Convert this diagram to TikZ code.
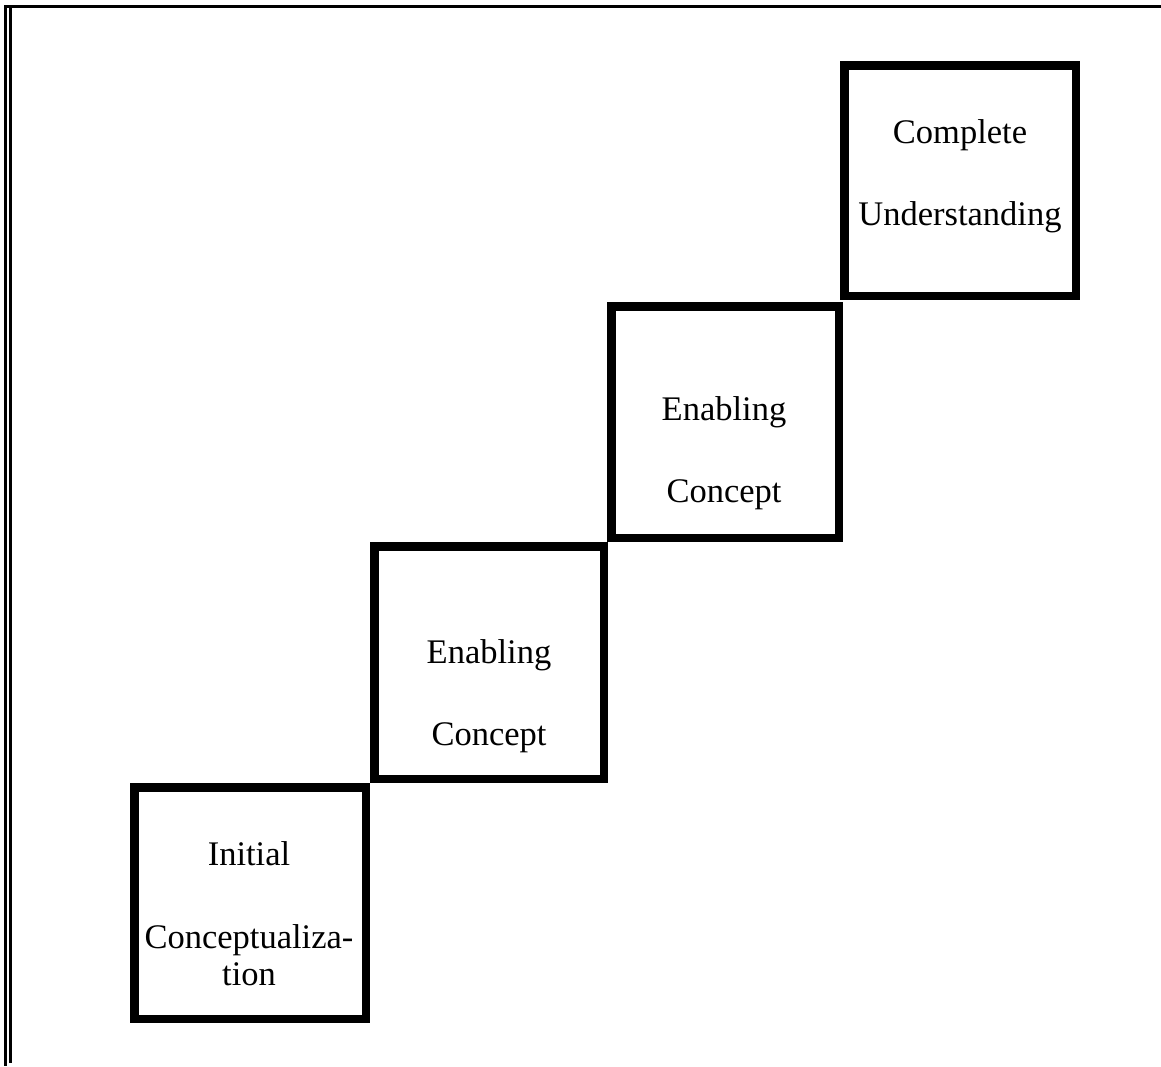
\documentclass[tikz,border=0pt]{standalone}
\usepackage{fontspec}
\setmainfont{Liberation Serif}
\begin{document}
\begin{tikzpicture}[x=1pt,y=-1pt,
  stage/.style={draw=black, line width=8.5pt, inner sep=0pt, outer sep=0pt},
  caption/.style={anchor=base, inner sep=0pt, font=\fontsize{34.5}{40}\selectfont}]
  \useasboundingbox (0,0) rectangle (1161,1066);
  % frame: rule along the top, double rule down the left side
  \draw[line width=2.7pt] (4,6.2) -- (1161,6.2);
  \draw[line width=3pt] (5.5,5) -- (5.5,1066);
  \draw[line width=3pt] (10.3,7.5) -- (10.3,1063);
  % staircase of stages
  \node[stage, minimum width=231.5pt, minimum height=231.5pt] (s1) at (250,903) {};
  \node[stage, minimum width=229.5pt, minimum height=232.5pt] (s2) at (489,662.5) {};
  \node[stage, minimum width=227.5pt, minimum height=231.5pt] (s3) at (725,422) {};
  \node[stage, minimum width=231.5pt, minimum height=230.5pt] (s4) at (960,180.5) {};
  % stage captions
  \node[caption] (s1a) at (249,865) {Initial};
  \node[caption] (s1b) at (249,948) {Conceptualiza-};
  \node[caption] (s1c) at (249,985) {tion};
  \node[caption] (s2a) at (489,663) {Enabling};
  \node[caption] (s2b) at (489,745) {Concept};
  \node[caption] (s3a) at (724,420) {Enabling};
  \node[caption] (s3b) at (724,502) {Concept};
  \node[caption] (s4a) at (960,143) {Complete};
  \node[caption] (s4b) at (960,225) {Understanding};
\end{tikzpicture}
\end{document}
